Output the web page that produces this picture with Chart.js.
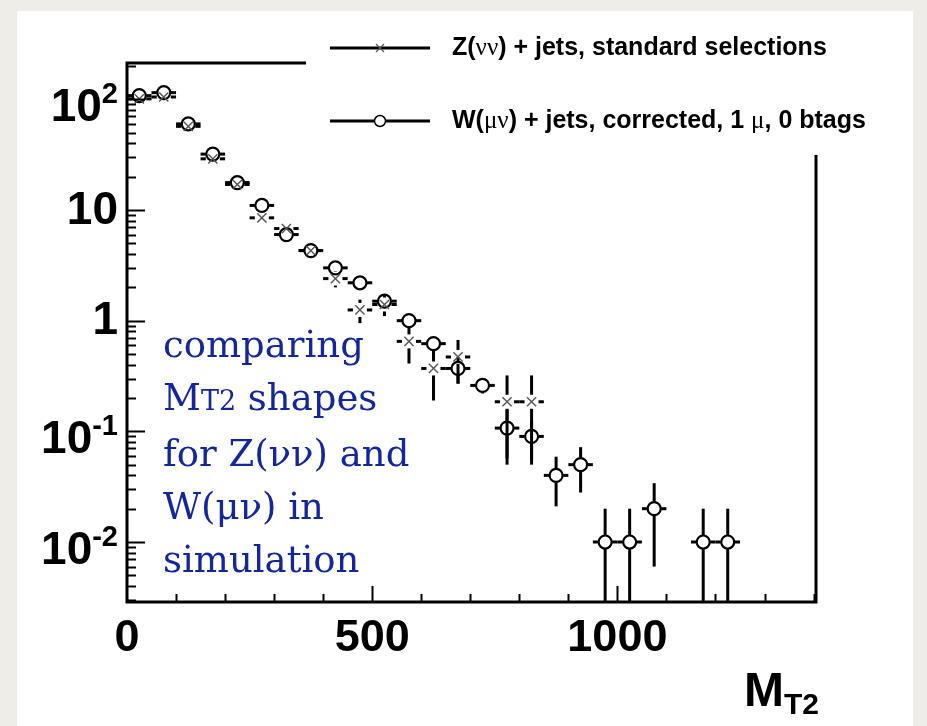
<!DOCTYPE html>
<html>
<head>
<meta charset="utf-8">
<script src="https://cdn.jsdelivr.net/npm/chart.js@4.4.1/dist/chart.umd.min.js"></script>
<style>
  html, body { margin: 0; padding: 0; }
  body { width: 927px; height: 726px; background: #efede8; position: relative; overflow: hidden; }
  #panel { position: absolute; left: 17px; top: 11px; width: 896px; height: 715px; background: #fff; }
  #chart { position: absolute; left: 0; top: 0; }
  #note { position: absolute; left: 163px; top: 318px; font: 37px "DejaVu Serif", serif; line-height: 53px; color: #14279a; white-space: nowrap; }
  #note .sub { font-size: 27px; }
</style>
</head>
<body>
<div id="panel"></div>
<canvas id="chart" width="927" height="726"></canvas>
<div id="note">comparing<br>M<span class="sub">T2</span> shapes<br>for Z(νν) and<br>W(μν) in<br>simulation</div>
<script>
// MT2 histogram, 50 GeV bins
const binCenters = [25, 75, 125, 175, 225, 275, 325, 375, 425, 475, 525, 575, 625,
  675, 725, 775, 825, 875, 925, 975, 1025, 1075, 1125, 1175, 1225];
const binHalfWidth = 25;

// Z(nunu) + jets, standard selections
const zValues = [101, 105, 57, 29, 17, 8.5, 6.8, 4.3, 2.4, 1.25, 1.4, 0.65, 0.37,
  0.47, null, 0.185, 0.185, null, null, null, null, null, null, null, null];
const zErrors = [3, 3, 2, 1.5, 1, 0.8, 0.5, 0.3, 0.4, 0.3, 0.3, 0.24, 0.18,
  0.2, null, 0.135, 0.135, null, null, null, null, null, null, null, null];

// W(munu) + jets, corrected, 1 mu, 0 btags
const wValues = [108, 115, 60, 32, 17.7, 11, 6.0, 4.3, 3.0, 2.2, 1.5, 1.0, 0.62,
  0.37, 0.26, 0.107, 0.09, 0.04, 0.05, 0.01, 0.01, 0.02, null, 0.01, 0.01];
const wErrors = [3, 3, 1.5, 1, 0.6, 0.5, 0.3, 0.2, 0.15, 0.1, 0.1, 0.08, 0.06,
  0.1, 0.04, 0.05, 0.035, 0.019, 0.022, 0.01, 0.01, 0.014, null, 0.01, 0.01];

const xTickLabels = [0, 500, 1000];
const yTickValues = [0.01, 0.1, 1, 10, 100];
const yTickLabels = [['10', '-2'], ['10', '-1'], ['1', ''], ['10', ''], ['10', '2']];

const legendZ = [['Z(', 'b'], ['\u03bd\u03bd', 'g'], [') + jets, standard selections', 'b']];
const legendW = [['W(', 'b'], ['\u03bc\u03bd', 'g'], [') + jets, corrected, 1 ', 'b'], ['\u03bc', 'g'], [', 0 btags', 'b']];

const boldFont = (s) => `bold ${s}px "Liberation Sans", Arial, sans-serif`;
const greekFont = (s) => `${s}px "Liberation Serif", serif`;

const toPoints = (vals, errs) => binCenters
  .map((x, i) => ({ x, y: vals[i], err: errs[i] }))
  .filter((p) => p.y != null);

// error bars with a gap round the marker, like ROOT draws them
const errorBars = {
  id: 'errorBars',
  beforeDatasetsDraw(chart) {
    const { ctx, chartArea, scales: { x, y } } = chart;
    const gap = 7;
    const seg = (ax, ay, bx, by) => {
      ctx.beginPath();
      ctx.moveTo(ax, ay);
      ctx.lineTo(bx, by);
      ctx.stroke();
    };
    ctx.save();
    ctx.strokeStyle = '#000';
    ctx.lineWidth = 3;
    chart.data.datasets.forEach((ds) => {
      ds.data.forEach((p) => {
        const px = x.getPixelForValue(p.x);
        const py = y.getPixelForValue(p.y);
        const x0 = x.getPixelForValue(p.x - binHalfWidth);
        const x1 = x.getPixelForValue(p.x + binHalfWidth);
        const hi = y.getPixelForValue(p.y + p.err);
        const loVal = p.y - p.err;
        const lo = loVal > y.min ? y.getPixelForValue(loVal) : chartArea.bottom;
        seg(x0, py, px - gap, py);
        seg(px + gap, py, x1, py);
        if (hi < py - gap) seg(px, hi, px, py - gap);
        if (lo > py + gap) seg(px, py + gap, px, lo);
      });
    });
    ctx.restore();
  },
};

// frame, inward ticks and tick labels
const frame = {
  id: 'frame',
  afterDatasetsDraw(chart) {
    const { ctx, chartArea: a, scales: { x, y } } = chart;
    ctx.save();
    ctx.strokeStyle = '#000';
    ctx.lineWidth = 3;
    ctx.strokeRect(a.left, a.top, a.right - a.left, a.bottom - a.top);

    ctx.lineWidth = 2;
    for (let e = -3; e <= 2; e++) {
      for (let m = 1; m <= 9; m++) {
        const v = m * Math.pow(10, e);
        if (v < y.min || v > y.max) continue;
        const py = Math.round(y.getPixelForValue(v)) + 0.5;
        const len = m === 1 ? 18 : 9;
        ctx.beginPath();
        ctx.moveTo(a.left, py);
        ctx.lineTo(a.left + len, py);
        ctx.stroke();
      }
    }
    for (let v = 100; v < x.max; v += 100) {
      const px = Math.round(x.getPixelForValue(v)) + 0.5;
      const len = v % 500 === 0 ? 16 : 8;
      ctx.beginPath();
      ctx.moveTo(px, a.bottom);
      ctx.lineTo(px, a.bottom - len);
      ctx.stroke();
    }

    ctx.fillStyle = '#000';
    ctx.font = boldFont(45);
    ctx.textAlign = 'center';
    ctx.textBaseline = 'middle';
    xTickLabels.forEach((v) => ctx.fillText(String(v), x.getPixelForValue(v), a.bottom + 37));

    const right = a.left - 9;
    yTickValues.forEach((v, i) => {
      const [base, exp] = yTickLabels[i];
      const py = y.getPixelForValue(v);
      ctx.textAlign = 'right';
      if (exp) {
        ctx.font = boldFont(29);
        const ew = ctx.measureText(exp).width;
        ctx.fillText(exp, right, py - 4);
        ctx.font = boldFont(46);
        ctx.fillText(base, right - ew, py + 9);
      } else {
        ctx.font = boldFont(46);
        ctx.fillText(base, right, py + 1);
      }
    });

    // axis title M_T2
    ctx.textAlign = 'left';
    ctx.textBaseline = 'alphabetic';
    ctx.font = boldFont(48);
    ctx.fillText('M', 744, 706);
    const mw = ctx.measureText('M').width;
    ctx.font = boldFont(30);
    ctx.fillText('T2', 744 + mw, 714);
    ctx.restore();
  },
};

// legend on a white box that hides the frame behind it
const legendBox = {
  id: 'legendBox',
  afterDraw(chart) {
    const { ctx } = chart;
    ctx.save();
    ctx.fillStyle = '#fff';
    ctx.fillRect(306, 20, 580, 135);
    const entries = [[legendZ, 48, 'cross'], [legendW, 121, 'circle']];
    entries.forEach(([parts, ly, marker]) => {
      ctx.strokeStyle = '#000';
      ctx.lineWidth = 3;
      ctx.beginPath();
      ctx.moveTo(330, ly);
      ctx.lineTo(430, ly);
      ctx.stroke();
      if (marker === 'circle') {
        ctx.fillStyle = '#fff';
        ctx.lineWidth = 1.5;
        ctx.beginPath();
        ctx.arc(380, ly, 5.5, 0, Math.PI * 2);
        ctx.fill();
        ctx.stroke();
      } else {
        ctx.strokeStyle = '#555';
        ctx.lineWidth = 1.2;
        ctx.beginPath();
        ctx.moveTo(376, ly - 4); ctx.lineTo(384, ly + 4);
        ctx.moveTo(376, ly + 4); ctx.lineTo(384, ly - 4);
        ctx.stroke();
      }
      let tx = 452;
      ctx.fillStyle = '#000';
      ctx.textBaseline = 'middle';
      ctx.textAlign = 'left';
      parts.forEach(([text, kind]) => {
        ctx.font = kind === 'b' ? boldFont(25) : greekFont(25);
        ctx.fillText(text, tx, ly);
        tx += ctx.measureText(text).width;
      });
    });
    ctx.restore();
  },
};

new Chart(document.getElementById('chart'), {
  type: 'scatter',
  data: {
    datasets: [
      {
        label: 'Z(\u03bd\u03bd) + jets, standard selections',
        data: toPoints(zValues, zErrors),
        pointStyle: 'crossRot',
        pointRadius: 6.5,
        pointBorderWidth: 1.4,
        pointBorderColor: '#555',
        pointBackgroundColor: 'rgba(0,0,0,0)',
      },
      {
        label: 'W(\u03bc\u03bd) + jets, corrected, 1 \u03bc, 0 btags',
        data: toPoints(wValues, wErrors),
        pointStyle: 'circle',
        pointRadius: 6.5,
        pointBorderWidth: 2.2,
        pointBorderColor: '#000',
        pointBackgroundColor: 'rgba(0,0,0,0)',
      },
    ],
  },
  options: {
    responsive: false,
    animation: false,
    layout: { padding: { left: 127, top: 63, right: 111, bottom: 124 } },
    scales: {
      x: { type: 'linear', min: 0, max: 1405, display: false },
      y: { type: 'logarithmic', min: 0.00287, max: 213, display: false },
    },
    plugins: { legend: { display: false }, tooltip: { enabled: false } },
  },
  plugins: [errorBars, frame, legendBox],
});
</script>
</body>
</html>
